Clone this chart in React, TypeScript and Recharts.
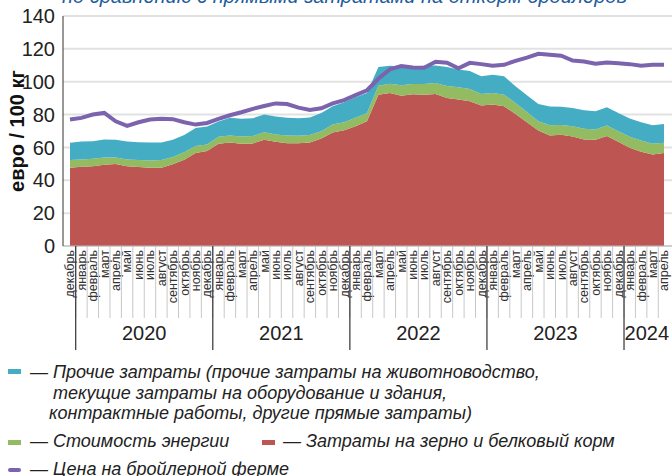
import React from 'react';
import { ComposedChart, Area, Line, XAxis, YAxis, CartesianGrid } from 'recharts';

const months: string[] = [
  'декабрь',
  'январь', 'февраль', 'март', 'апрель', 'май', 'июнь', 'июль', 'август', 'сентябрь', 'октябрь', 'ноябрь', 'декабрь',
  'январь', 'февраль', 'март', 'апрель', 'май', 'июнь', 'июль', 'август', 'сентябрь', 'октябрь', 'ноябрь', 'декабрь',
  'январь', 'февраль', 'март', 'апрель', 'май', 'июнь', 'июль', 'август', 'сентябрь', 'октябрь', 'ноябрь', 'декабрь',
  'январь', 'февраль', 'март', 'апрель', 'май', 'июнь', 'июль', 'август', 'сентябрь', 'октябрь', 'ноябрь', 'декабрь',
  'январь', 'февраль', 'март', 'апрель',
];

// year groups: label, first month index, last month index
const yearLabels: string[] = ['2020', '2021', '2022', '2023', '2024'];
const yearFirst: number[] = [1, 13, 25, 37, 49];
const yearLast: number[] = [12, 24, 36, 48, 52];

// Затраты на зерно и белковый корм
const grain: number[] = [
  47.7, 48.3, 48.5, 49.5, 49.9, 48.5, 48.1, 47.7, 47.7, 49.7, 52.5, 56.6, 57.8,
  62.2, 63.0, 62.2, 62.4, 64.6, 63.4, 62.6, 62.6, 63.0, 65.5, 69.1, 70.5,
  72.9, 76.0, 92.1, 93.1, 91.5, 92.3, 92.1, 92.5, 90.1, 89.1, 88.1, 85.5,
  86.1, 85.1, 80.4, 75.3, 70.3, 67.3, 67.7, 66.7, 64.8, 64.6, 66.9, 63.4,
  59.8, 57.4, 55.7, 56.6,
];
// Стоимость энергии
const energy: number[] = [
  4.6, 4.4, 4.6, 4.4, 4.0, 4.2, 4.2, 4.4, 4.6, 4.4, 4.5, 4.2, 4.0,
  4.3, 4.3, 4.5, 4.5, 4.7, 4.5, 4.7, 4.5, 4.5, 4.4, 4.9, 4.9,
  5.1, 5.0, 5.5, 5.7, 6.3, 6.3, 6.5, 6.7, 7.3, 7.5, 7.4, 7.0,
  7.0, 7.0, 6.7, 6.3, 5.7, 6.2, 6.0, 6.2, 6.5, 6.3, 6.4, 6.5,
  6.7, 6.8, 6.5, 6.2,
];
// Прочие затраты
const other: number[] = [
  10.5, 10.9, 10.7, 10.9, 10.7, 10.9, 10.9, 10.9, 10.7, 10.5, 10.5, 11.1, 10.9,
  9.3, 10.7, 10.7, 10.9, 10.7, 10.9, 10.7, 10.7, 10.7, 11.1, 11.1, 12.1,
  12.5, 12.1, 11.3, 10.9, 11.5, 10.7, 11.1, 10.7, 11.5, 10.9, 11.0, 10.8,
  11.1, 11.2, 10.1, 10.1, 10.5, 11.4, 11.0, 11.1, 11.3, 11.1, 11.1, 11.1,
  11.1, 11.1, 11.3, 11.5,
];
// Цена на бройлерной ферме
const price: number[] = [
  77.0, 78.0, 80.0, 81.0, 75.9, 73.1, 75.3, 77.0, 77.4, 77.2, 75.3, 73.9, 74.9,
  77.4, 79.6, 81.4, 83.5, 85.2, 86.8, 86.4, 84.2, 82.8, 83.8, 86.8, 88.8,
  91.8, 94.8, 101.8, 107.5, 109.5, 108.7, 108.5, 112.2, 111.6, 108.2, 111.5, 110.7,
  109.7, 110.3, 112.7, 114.7, 117.0, 116.4, 115.8, 112.9, 112.3, 110.9, 111.7, 111.3,
  110.7, 109.7, 110.3, 110.3,
];

const yTicks: number[] = [0, 20, 40, 60, 80, 100, 120, 140];

const COLORS = {
  grain: '#bd5552',
  energy: '#92bb62',
  other: '#44adc4',
  price: '#7c63ad',
};

const data = months.map((m, i) => ({
  idx: i,
  month: m,
  grain: grain[i],
  energy: energy[i],
  other: other[i],
  price: price[i],
}));

const lastIdx = months.length - 1;
const monthTicks = months.map((_, i) => i);
const sepTicks = months.slice(1).map((_, i) => i + 0.5);
const yearMid = yearLabels.map((_, k) => (yearFirst[k] + yearLast[k]) / 2);
const yearBounds = yearFirst.map((f) => f - 0.5);
const allTicks = [...monthTicks, ...sepTicks];

const XTick = (props: any) => {
  const { x, y, payload } = props;
  const v: number = payload.value;
  const isInt = Math.abs(v - Math.round(v)) < 1e-6;
  if (isInt) {
    return (
      <text
        x={x}
        y={y + 4}
        transform={`rotate(-90, ${x}, ${y + 4})`}
        textAnchor="end"
        dy="0.35em"
        fontSize={12.5}
        fontFamily="'Liberation Sans', Arial, sans-serif"
        fill="#333"
      >
        {months[Math.round(v)]}
      </text>
    );
  }
  const isBound = yearBounds.some((b) => Math.abs(b - v) < 1e-6);
  const yi = yearMid.findIndex((m) => Math.abs(m - v) < 1e-6);
  return (
    <g>
      <line x1={x} x2={x} y1={y} y2={y + 72} stroke="#c8c8c8" strokeWidth={1} />
      {isBound && <line x1={x} x2={x} y1={y} y2={y + 104} stroke="#333" strokeWidth={1.2} />}
      {yi >= 0 && (
        <text
          x={x}
          y={y + 94}
          textAnchor="middle"
          fontSize={20}
          fontFamily="'Liberation Sans', Arial, sans-serif"
          fill="#222"
        >
          {yearLabels[yi]}
        </text>
      )}
    </g>
  );
};

const legendFont: React.CSSProperties = {
  position: 'absolute',
  fontFamily: "'Liberation Sans', Arial, sans-serif",
  fontStyle: 'italic',
  fontSize: 18,
  lineHeight: '20px',
  color: '#222',
  whiteSpace: 'nowrap',
};

const mark = (left: number, top: number, color: string, round = false): React.CSSProperties => ({
  position: 'absolute',
  left,
  top,
  width: 13,
  height: round ? 4 : 5,
  borderRadius: round ? 2 : 0,
  background: color,
});

export default function App() {
  return (
    <div
      style={{
        position: 'absolute',
        left: 0,
        top: 0,
        width: 672,
        height: 476,
        overflow: 'hidden',
        background: '#fff',
      }}
    >
      <div
        style={{
          position: 'absolute',
          left: 62,
          top: -15,
          fontFamily: "'Liberation Sans', Arial, sans-serif",
          fontStyle: 'italic',
          fontSize: 20,
          color: '#1d5c9c',
          whiteSpace: 'nowrap',
        }}
      >
        по сравнению с прямыми затратами на откорм бройлеров
      </div>
      <ComposedChart
        width={672}
        height={476}
        data={data}
        margin={{ top: 16, right: 0, bottom: 120, left: 0 }}
      >
        <CartesianGrid horizontal vertical={false} stroke="#e2e2e2" strokeWidth={2} />
        <XAxis
          dataKey="idx"
          type="number"
          domain={[0, lastIdx]}
          ticks={allTicks}
          interval={0}
          padding={{ left: 7, right: 8 }}
          tick={<XTick />}
          tickLine={false}
          tickSize={0}
          tickMargin={0}
          axisLine={{ stroke: '#bbb' }}
          height={110}
          allowDecimals
        />
        <YAxis
          domain={[0, 140]}
          ticks={yTicks}
          interval={0}
          width={63}
          tickLine={false}
          axisLine={{ stroke: '#333', strokeWidth: 1 }}
          tick={{
            fontSize: 20,
            fill: '#222',
            fontFamily: "'Liberation Sans Narrow', 'Liberation Sans', Arial, sans-serif",
          }}
        />
        <Area
          type="linear"
          dataKey="grain"
          stackId="a"
          stroke="none"
          fill={COLORS.grain}
          fillOpacity={1}
          isAnimationActive={false}
        />
        <Area
          type="linear"
          dataKey="energy"
          stackId="a"
          stroke="none"
          fill={COLORS.energy}
          fillOpacity={1}
          isAnimationActive={false}
        />
        <Area
          type="linear"
          dataKey="other"
          stackId="a"
          stroke="none"
          fill={COLORS.other}
          fillOpacity={1}
          isAnimationActive={false}
        />
        <Line
          type="linear"
          dataKey="price"
          stroke={COLORS.price}
          strokeWidth={4}
          dot={false}
          isAnimationActive={false}
        />
      </ComposedChart>

      <div
        style={{
          position: 'absolute',
          left: 17,
          top: 131,
          transform: 'translate(-50%, -50%) rotate(-90deg)',
          fontFamily: "'Liberation Sans', Arial, sans-serif",
          fontWeight: 'bold',
          fontSize: 20,
          color: '#111',
          whiteSpace: 'nowrap',
        }}
      >
        евро / 100 кг
      </div>

      <div style={mark(8, 369, COLORS.other)} />
      <div style={{ ...legendFont, left: 30, top: 362 }}>— Прочие затраты (прочие затраты на животноводство,</div>
      <div style={{ ...legendFont, left: 53, top: 383 }}>текущие затраты на оборудование и здания,</div>
      <div style={{ ...legendFont, left: 49, top: 403 }}>контрактные работы, другие прямые затраты)</div>

      <div style={mark(8, 440, COLORS.energy)} />
      <div style={{ ...legendFont, left: 30, top: 431 }}>— Стоимость энергии</div>
      <div style={mark(262, 440, COLORS.grain)} />
      <div style={{ ...legendFont, left: 283, top: 431 }}>— Затраты на зерно и белковый корм</div>

      <div style={mark(8, 468, COLORS.price, true)} />
      <div style={{ ...legendFont, left: 30, top: 459 }}>— Цена на бройлерной ферме</div>
    </div>
  );
}
